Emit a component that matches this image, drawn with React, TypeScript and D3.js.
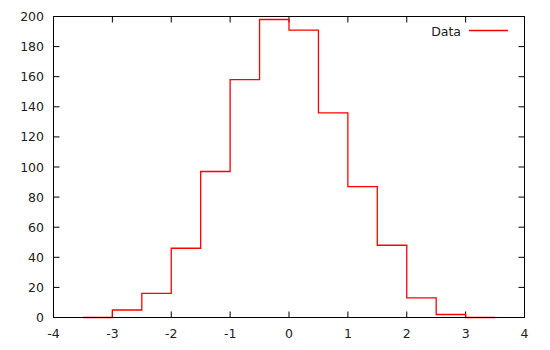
import React from "react";
import * as d3 from "d3";

const binCenters = [-3.25, -2.75, -2.25, -1.75, -1.25, -0.75, -0.25, 0.25, 0.75, 1.25, 1.75, 2.25, 2.75, 3.25];
const counts = [0, 5, 16, 46, 97, 158, 198, 191, 136, 87, 48, 13, 2, 0];
const xTicks = [-4, -3, -2, -1, 0, 1, 2, 3, 4];
const yTicks = [0, 20, 40, 60, 80, 100, 120, 140, 160, 180, 200];
const seriesName = "Data";

const W = 550;
const H = 350;
const left = 53.5, right = 524.5, top = 16.5, bottom = 317.5;
const font = "'DejaVu Sans', sans-serif";
const fs = 12.5;

export default function App() {
  const x = d3.scaleLinear().domain([-4, 4]).range([left, right]);
  const y = d3.scaleLinear().domain([0, 200]).range([bottom, top]);
  const half = 0.25;
  const pts: [number, number][] = [];
  binCenters.forEach((c, i) => {
    pts.push([c - half, counts[i]]);
    pts.push([c + half, counts[i]]);
  });
  const line = d3.line<[number, number]>().x(d => x(d[0])).y(d => y(d[1])).curve(d3.curveLinear);
  const tl = 6;
  return (
    <svg width={W} height={H} style={{ position: "absolute", left: 0, top: 0, background: "#fff" }}>
      <rect x={0} y={0} width={W} height={H} fill="#fff" />
      {xTicks.map(t => (
        <g key={"x" + t}>
          <line x1={x(t)} x2={x(t)} y1={bottom} y2={bottom - tl} stroke="#000" />
          <line x1={x(t)} x2={x(t)} y1={top} y2={top + tl} stroke="#000" />
          <text x={x(t)} y={337.5} textAnchor="middle" fontFamily={font} fontSize={fs} fill="#222">{t}</text>
        </g>
      ))}
      {yTicks.map(t => (
        <g key={"y" + t}>
          <line x1={left} x2={left + tl} y1={y(t)} y2={y(t)} stroke="#000" />
          <line x1={right} x2={right - tl} y1={y(t)} y2={y(t)} stroke="#000" />
          <text x={44} y={y(t)} dy="0.36em" textAnchor="end" fontFamily={font} fontSize={fs} fill="#222">{t}</text>
        </g>
      ))}
      <path d={line(pts) || ""} fill="none" stroke="#ff0000" strokeWidth={1.3} />
      <rect x={left} y={top} width={right - left} height={bottom - top} fill="none" stroke="#000" />
      <text x={461} y={35.5} textAnchor="end" fontFamily={font} fontSize={fs} fill="#222">{seriesName}</text>
      <line x1={469} x2={508} y1={30.5} y2={30.5} stroke="#ff0000" strokeWidth={1.3} />
    </svg>
  );
}
